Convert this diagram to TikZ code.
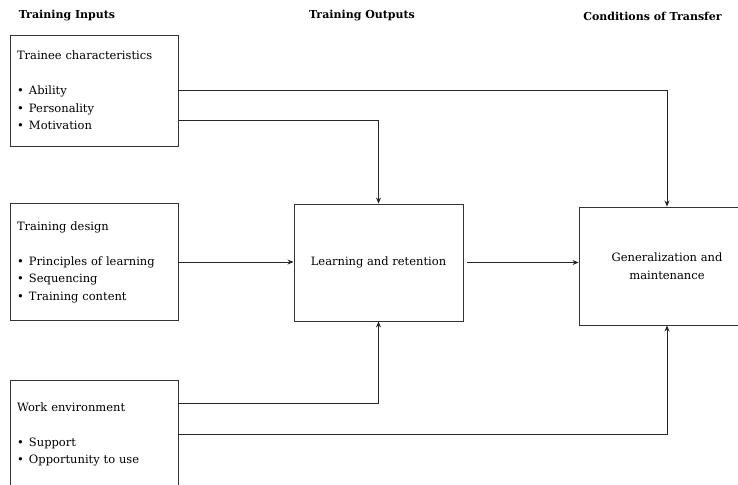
\documentclass[tikz,border=0pt]{standalone}
\usepackage{fontspec}
\setmainfont{DejaVu Serif}
\usepackage{tikz}
\usetikzlibrary{arrows.meta}

\newcommand{\itembul}[1]{\makebox[12pt][l]{\textbullet}#1}

\begin{document}
\begin{tikzpicture}[x=1pt, y=-1pt,
        box/.style={draw=black!80, rectangle, line width=0.9pt, fill=white},
        inbox/.style={box, minimum width=168pt, text width=154pt, align=left, inner xsep=7pt, font=\fontsize{11.5}{17.5}\selectfont},
        outbox/.style={box, align=center, font=\fontsize{11.5}{17.5}\selectfont},
        headbox/.style={font=\fontsize{11}{13}\selectfont\bfseries},
        link/.style={draw=black!85, line width=0.8pt, -{Stealth[length=6pt,width=5pt]}}
    ]
        \useasboundingbox (0,0) rectangle (738,484);
    
        % Headers
        \node[headbox] (hinputs) at (67,16) {Training Inputs};
        \node[headbox] (houtputs) at (362,16) {Training Outputs};
        \node[headbox] (htransfer) at (652.5,16) {Conditions of Transfer};
        
        % Training inputs
        \node[inbox, minimum height=111pt] (trainee) at (94,90.5) {Trainee characteristics\\[17.5pt]
            \itembul{Ability}\\ \itembul{Personality}\\ \itembul{Motivation}};
        \node[inbox, minimum height=117pt] (design) at (94,262) {Training design\\[17.5pt]
            \itembul{Principles of learning}\\ \itembul{Sequencing}\\ \itembul{Training content}};
        \node[inbox, minimum height=109pt] (environment) at (94,434.5) {Work environment\\[17.5pt]
            \itembul{Support}\\ \itembul{Opportunity to use}};
        
        % Training outputs
        \node[outbox, minimum width=169pt, minimum height=117pt] (learning) at (378.5,262.5) {Learning and retention};
        
        % Conditions of transfer
        \node[outbox, minimum width=176pt, minimum height=118pt] (general) at (667,266) {Generalization and\\maintenance};
        
        % Connectors
        \draw[link] (trainee.east) -| (general.north);
        \draw[link] ([yshift=-29.5pt]trainee.east) -| (learning.north);
        \draw[link] (design.east) -- (design.east -| learning.west);
        \draw[link] ([xshift=4pt]learning.east) -- (learning.east -| general.west);
        \draw[link] ([yshift=31.5pt]environment.east) -| (learning.south);
        \draw[link] (environment.east) -| (general.south);
        
\end{tikzpicture}
\end{document}
